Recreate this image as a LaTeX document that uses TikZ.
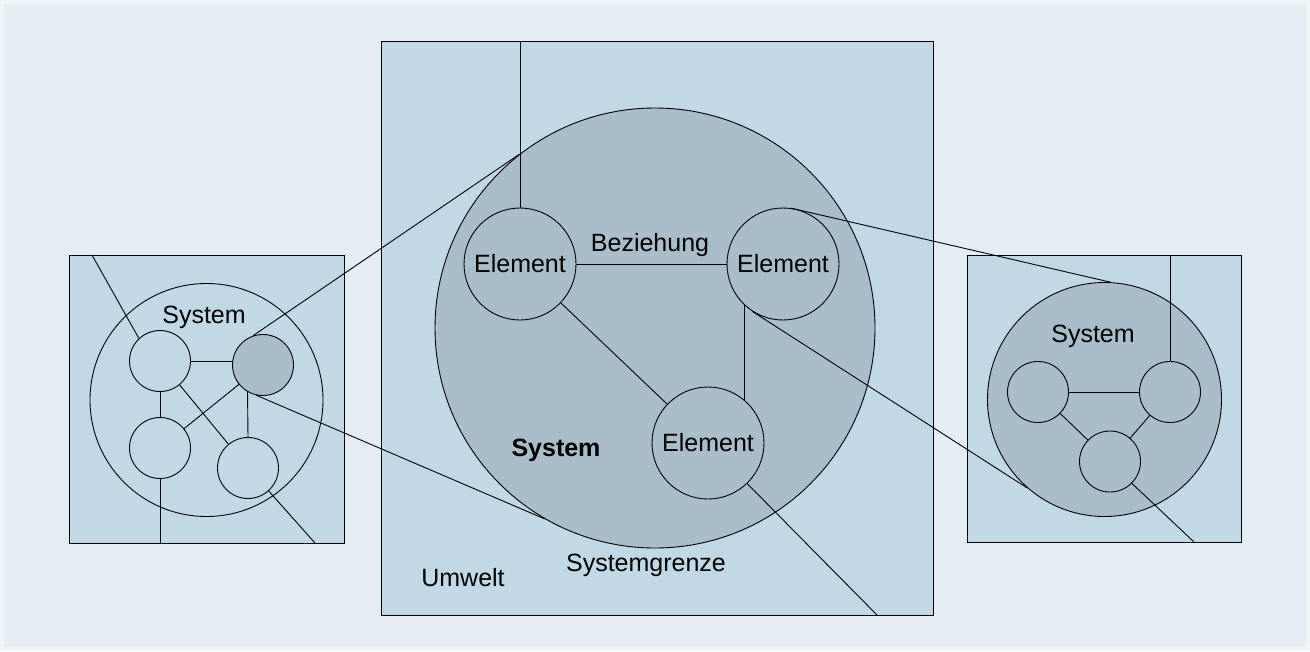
\documentclass[tikz,border=0pt]{standalone}
\usepackage{fontspec}
\setmainfont{Liberation Sans}
\usepackage{tikz}
\usetikzlibrary{calc}

\definecolor{bgpale}{HTML}{F0F5F8}
\definecolor{bgblue}{HTML}{E3EDF3}
\definecolor{boxblue}{HTML}{C1D9E7}
\definecolor{sysgray}{HTML}{A9BDCB}

\begin{document}
\begin{tikzpicture}[
  x=1pt, y=-1pt,
  line width=0.9pt,
  font=\fontsize{25}{30}\selectfont,
  umwelt/.style={draw, fill=boxblue},
  ring/.style={draw, circle, inner sep=0pt, minimum size=#1},
  elem/.style={ring=112pt, fill=sysgray},
  dot/.style={ring=61pt},
]
\useasboundingbox (0,0) rectangle (1310,651);
\fill[bgpale] (0,0) rectangle (1310,651);
\fill[bgblue] (4,4) rectangle (1306,647);

% left: system with one element highlighted
\draw[umwelt] (69,255) rectangle (344,543);
\node[ring=233pt] (lsys) at (206.5,400) {};
\node (llabel) at (204,317) {System};
\node[dot] (la) at (160,361) {};
\node[dot, fill=sysgray] (lb) at (263,365) {};
\node[dot] (lc) at (160,448) {};
\node[dot] (ld) at (248,468) {};
\coordinate (ltop) at (92,255);
\coordinate (lbot) at (160,543);
\coordinate (lcorner) at (315,543);

\draw (la.east) -- (la.east -| lb.west);
\draw (la) -- (lc);
\draw (la) -- (ld);
\draw (lb) -- (lc);
\draw (lb.240) -- (ld.north);
\draw (la.133) -- (ltop);
\draw (lc.south) -- (lbot);
\draw (ld.-48) -- (lcorner);

% middle: the element zoomed in
\draw[umwelt] (381,41) rectangle (933,615);
\node[ring=440pt, fill=sysgray] (msys) at (655,328) {};
\node[elem] (e1) at (520,264) {Element};
\node[elem] (e2) at (783,264) {Element};
\node[elem] (e3) at (708,443) {Element};
\node (rel) at (650,245) {Beziehung};
\node[font=\fontsize{25}{30}\selectfont\bfseries] (mlabel) at (556,450) {System};
\node (border) at (646,565) {Systemgrenze};
\node (env) at (463,578) {Umwelt};
\coordinate (mtop) at (520,41);
\coordinate (mcorner) at (877,615);

\draw (e1) -- (e2);
\draw (e1) -- (e3);
\draw (e2.227) -- (e2.227 |- e3.49);
\draw (e1.north) -- (mtop);
\draw (e3.-46) -- (mcorner);

% right: one element as a system of its own
\draw[umwelt] (967,255) rectangle (1241,542);
\node[ring=234pt, fill=sysgray] (rsys) at (1104.5,399.5) {};
\node (rlabel) at (1093,336) {System};
\node[dot] (rp) at (1038,392) {};
\node[dot] (rq) at (1170,392) {};
\node[dot] (rr) at (1110,461.5) {};
\coordinate (rtop) at (1170,255);
\coordinate (rcorner) at (1194,542);

\draw (rp) -- (rq);
\draw (rp) -- (rr);
\draw (rq) -- (rr);
\draw (rq.north) -- (rtop);
\draw (rr.-45) -- (rcorner);

% zoom lines
\draw (lb.109) -- (msys.128);
\draw (lb.-103) -- (msys.240);
\draw (e2.82) -- (rsys.87);
\draw (e2.237) -- (rsys.229);
\end{tikzpicture}
\end{document}
